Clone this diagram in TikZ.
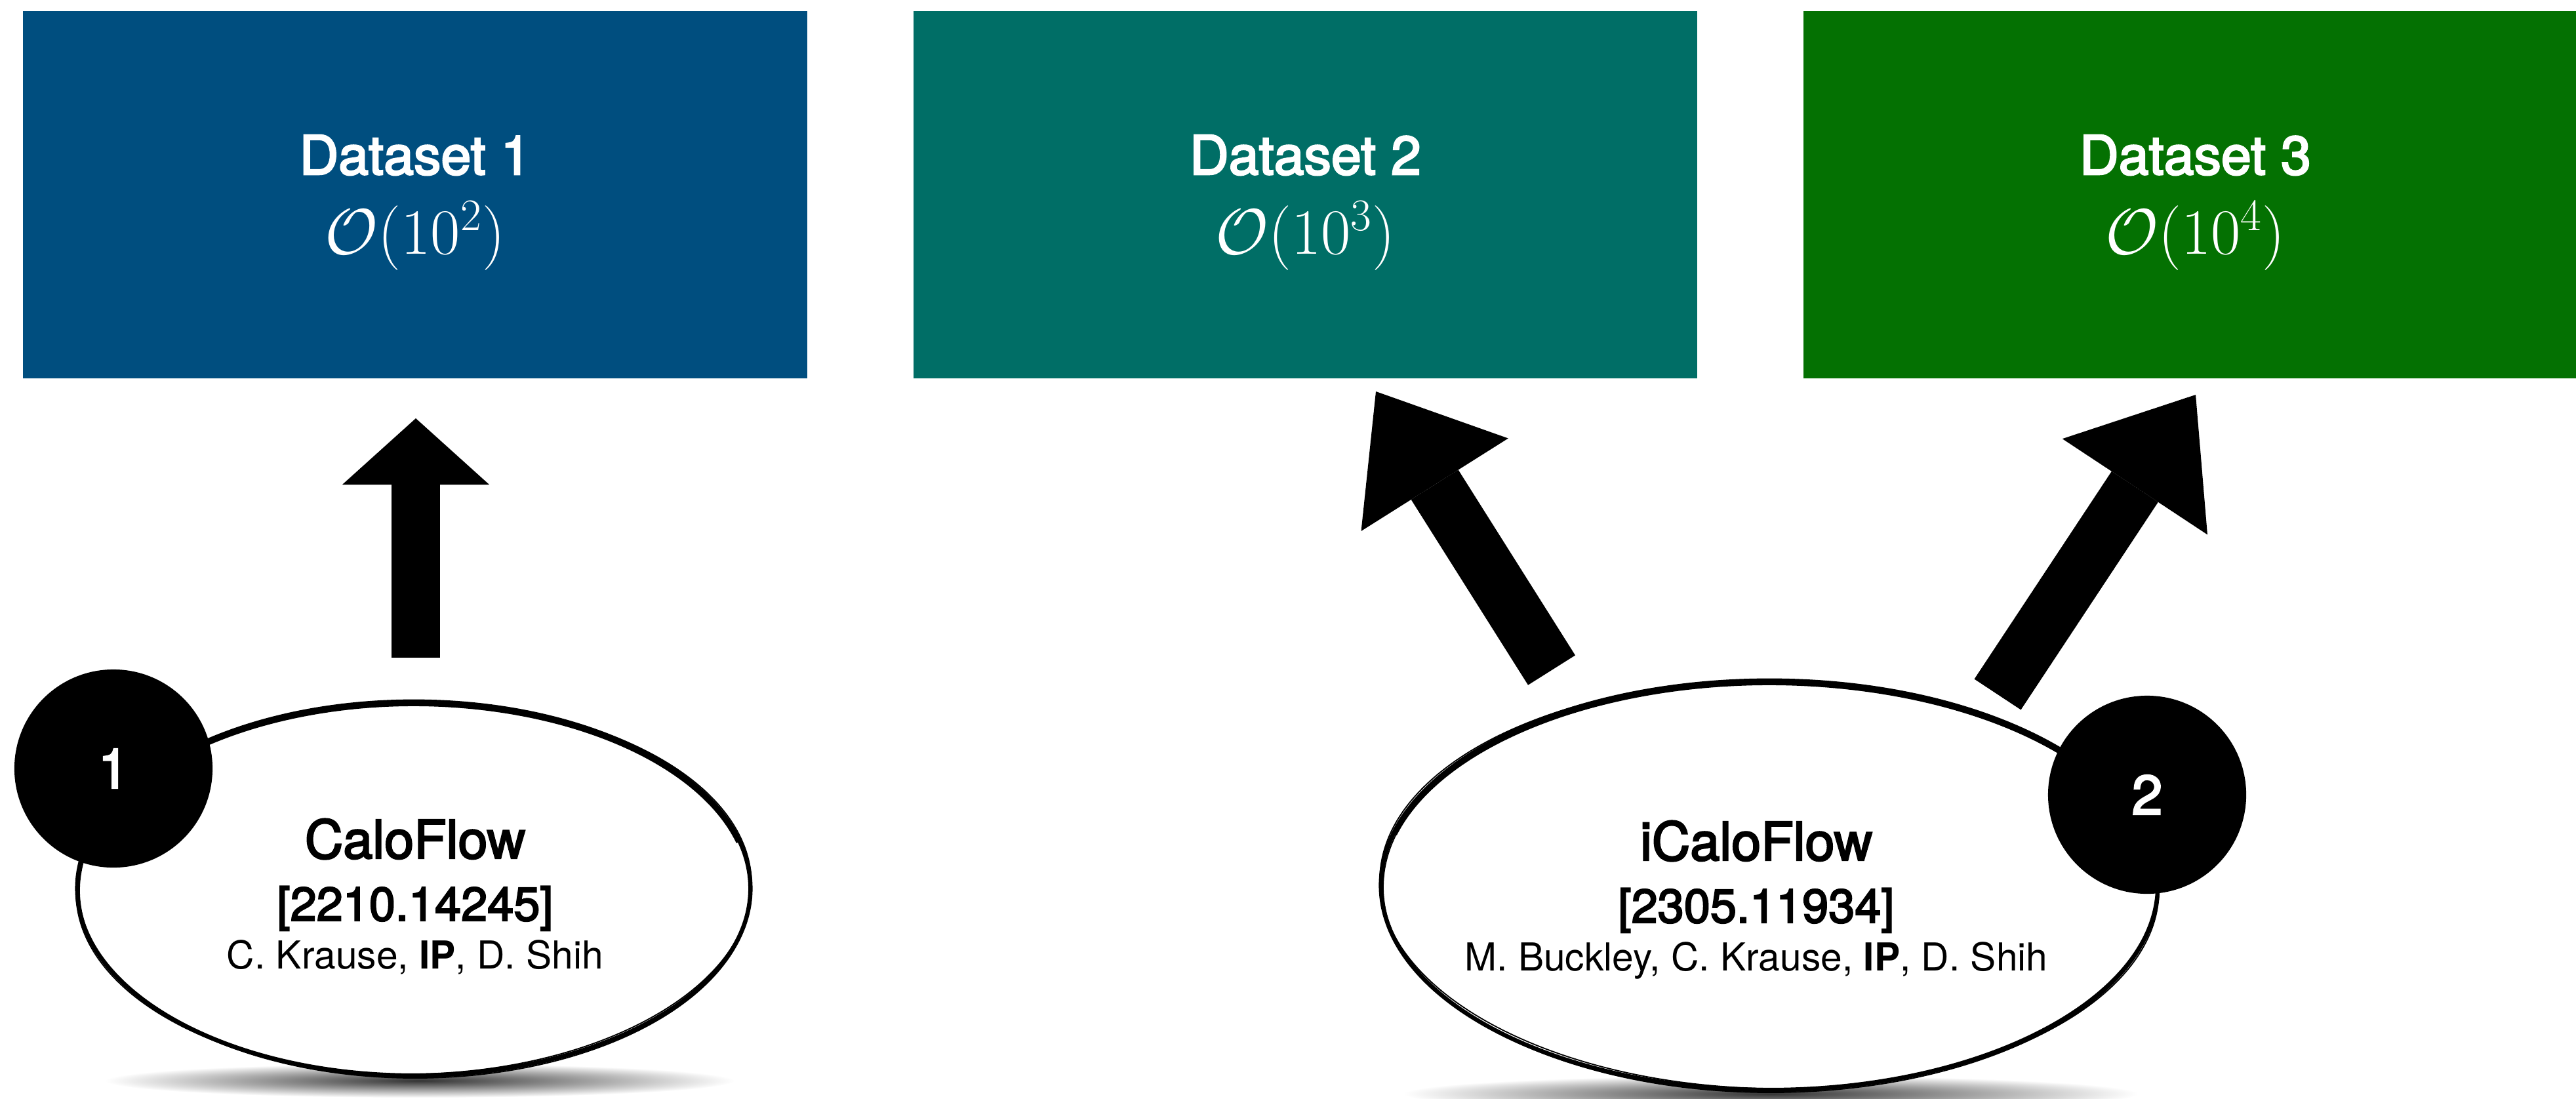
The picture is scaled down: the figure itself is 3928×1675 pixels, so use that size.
\RequirePackage{fix-cm}
\documentclass[tikz,border=0pt]{standalone}
\usepackage[no-math]{fontspec}
\setmainfont{TeX Gyre Heros}
\newfontfamily\mediumfont{TeX Gyre Heros}[FakeBold=3]
\usetikzlibrary{arrows.meta,shapes.geometric}

\definecolor{dsblue}{RGB}{0,78,127}
\definecolor{dsteal}{RGB}{0,110,102}
\definecolor{dsgreen}{RGB}{4,113,2}

\begin{document}
\begin{tikzpicture}[x=0.01cm,y=-0.01cm,
  dataset/.style={fill=#1, draw=none, minimum width=11.95cm, minimum height=5.6cm, inner sep=0pt},
  dstitle/.style={text=white, font=\fontsize{23.5}{28}\selectfont\mediumfont, anchor=base, inner sep=0pt},
  dsorder/.style={text=white, font=\fontsize{28}{32}\selectfont, anchor=base, inner sep=0pt},
  model/.style={ellipse, draw=black, fill=white, line width=0.065cm, inner sep=0pt},
  sketch/.style={line width=0.018cm, black},
  badge/.style={circle, fill=black, minimum size=3.02cm, inner sep=0pt, text=white,
    font=\fontsize{24}{28}\selectfont\mediumfont},
  mname/.style={font=\fontsize{23}{28}\selectfont\mediumfont, anchor=base, inner sep=0pt},
  mref/.style={font=\fontsize{20.5}{24}\selectfont\mediumfont, anchor=base, inner sep=0pt},
  mauth/.style={font=\fontsize{16.7}{20}\selectfont, anchor=base, inner sep=0pt},
  arrowsmall/.style={line width=0.73cm, -{Triangle[length=1.01cm,width=2.24cm,line width=0pt]}},
  arrowbig/.style={line width=0.85cm, -{Triangle[length=1.68cm,width=2.65cm,line width=0pt]}},
  groundshadow/.style={inner color=black!80, outer color=white}
]
\useasboundingbox (0,0) rectangle (3928,1675);
\clip (0,0) rectangle (3928,1675);

% dataset boxes
\node[dataset=dsblue]  (d1) at (633,297)    {};
\node[dataset=dsteal]  (d2) at (1990.5,297) {};
\node[dataset=dsgreen] (d3) at (3347.5,297) {};

\node[dstitle] (d1t) at (633,266)    {Dataset 1};
\node[dsorder] (d1o) at (633,387)    {$\mathcal{O}(10^2)$};
\node[dstitle] (d2t) at (1990.5,266) {Dataset 2};
\node[dsorder] (d2o) at (1990.5,387) {$\mathcal{O}(10^3)$};
\node[dstitle] (d3t) at (3347.5,266) {Dataset 3};
\node[dsorder] (d3o) at (3347.5,387) {$\mathcal{O}(10^4)$};

% block arrows from the models to the datasets
\coordinate (a1s) at (634,1003);  \coordinate (a1t) at (634,638);
\coordinate (a2s) at (2366,1022); \coordinate (a2t) at (2098,597);
\coordinate (a3s) at (3046,1059); \coordinate (a3t) at (3348,602);
\draw[arrowsmall] (a1s) -- (a1t);
\draw[arrowbig]   (a2s) -- (a2t);
\draw[arrowbig]   (a3s) -- (a3t);

% soft ground shadows
\shade[groundshadow] (640,1648) ellipse (480 and 26);
\shade[groundshadow] (2700,1668) ellipse (560 and 28);

% model ellipses with a brush-like outline
\node[model, minimum width=10.26cm, minimum height=5.7cm] (m1) at (631,1355) {};
\draw[sketch] ([shift={(2,3)}]m1.center) ellipse (512 and 286);
\draw[sketch, rotate around={1:(m1.center)}] (m1.center) ellipse (515 and 283);
\draw[line width=0.06cm] ([shift={(0,3)}]m1.center) ++(195:512 and 284) arc (195:345:512 and 284);

\node[model, minimum width=11.84cm, minimum height=6.24cm] (m2) at (2698,1350) {};
\draw[sketch] ([shift={(2,3)}]m2.center) ellipse (591 and 313);
\draw[sketch, rotate around={-1:(m2.center)}] (m2.center) ellipse (594 and 310);
\draw[line width=0.06cm] ([shift={(0,3)}]m2.center) ++(195:591 and 311) arc (195:345:591 and 311);

% model labels
\node[mname] (m1n) at (633,1309) {CaloFlow};
\node[mref]  (m1r) at (633,1404) {[2210.14245]};
\node[mauth] (m1a) at (633,1477) {C. Krause, \textbf{IP}, D. Shih};

\node[mname] (m2n) at (2678,1312) {iCaloFlow};
\node[mref]  (m2r) at (2678,1407) {[2305.11934]};
\node[mauth] (m2a) at (2678,1480) {M. Buckley, C. Krause, \textbf{IP}, D. Shih};

% numbered badges
\node[badge] (b1) at (173,1172)  {1};
\node[badge] (b2) at (3274,1212) {2};
\end{tikzpicture}
\end{document}
